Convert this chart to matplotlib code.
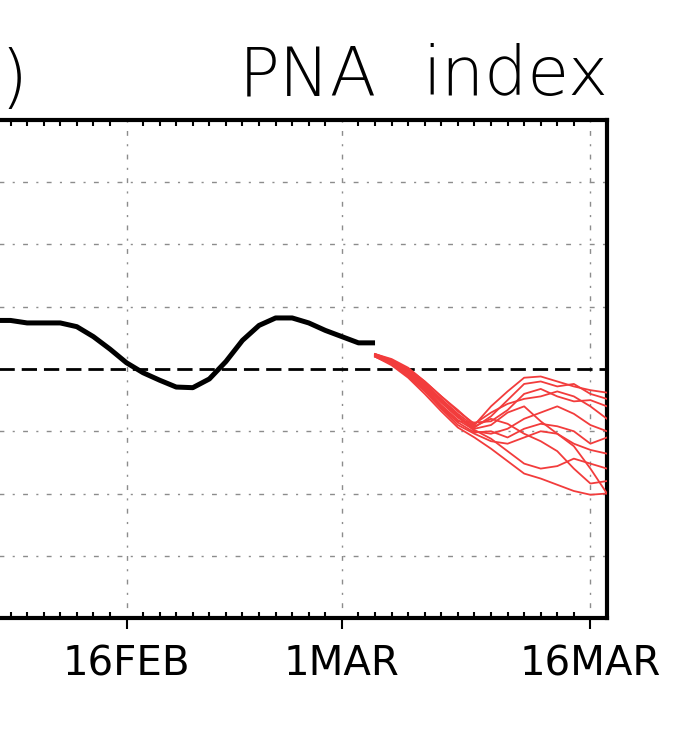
import matplotlib
matplotlib.use("Agg")
import matplotlib.pyplot as plt
import matplotlib.dates as mdates
import pandas as pd

# observed PNA index (black line)
obs_dates = pd.date_range("2025-02-08", "2025-03-03", freq="D")
obs_pna = [0.39, 0.39, 0.37, 0.37, 0.37, 0.34, 0.26, 0.16, 0.05, -0.03,
           -0.09, -0.145, -0.15, -0.08, 0.06, 0.23, 0.35, 0.41, 0.41, 0.37,
           0.31, 0.26, 0.21, 0.21]

# ensemble forecast members (red lines)
fc_dates = pd.date_range("2025-03-03", "2025-03-17", freq="D")
members = [
    [0.12, 0.08, 0.01, -0.10, -0.22, -0.33, -0.45, -0.30, -0.18, -0.07, -0.06, -0.10, -0.14, -0.17, -0.19],
    [0.11, 0.06, -0.02, -0.13, -0.26, -0.38, -0.47, -0.38, -0.25, -0.12, -0.10, -0.14, -0.12, -0.20, -0.24],
    [0.10, 0.04, -0.05, -0.17, -0.30, -0.42, -0.43, -0.42, -0.33, -0.20, -0.16, -0.22, -0.26, -0.25, -0.30],
    [0.11, 0.06, -0.02, -0.14, -0.27, -0.39, -0.48, -0.45, -0.35, -0.30, -0.42, -0.52, -0.62, -0.80, -1.00],
    [0.12, 0.07, 0.00, -0.11, -0.25, -0.37, -0.50, -0.52, -0.48, -0.40, -0.35, -0.30, -0.36, -0.45, -0.50],
    [0.10, 0.04, -0.06, -0.18, -0.32, -0.45, -0.52, -0.58, -0.60, -0.55, -0.50, -0.52, -0.60, -0.65, -0.68],
    [0.11, 0.05, -0.03, -0.15, -0.29, -0.41, -0.49, -0.56, -0.66, -0.76, -0.80, -0.78, -0.72, -0.76, -0.80],
    [0.10, 0.03, -0.07, -0.20, -0.34, -0.47, -0.55, -0.64, -0.74, -0.84, -0.88, -0.93, -0.98, -1.01, -1.00],
    [0.12, 0.07, -0.01, -0.12, -0.24, -0.36, -0.46, -0.40, -0.44, -0.52, -0.58, -0.66, -0.80, -0.92, -0.90],
    [0.11, 0.07, 0.00, -0.10, -0.22, -0.34, -0.44, -0.35, -0.28, -0.24, -0.22, -0.18, -0.22, -0.30, -0.40],
    [0.10, 0.05, -0.04, -0.16, -0.31, -0.43, -0.51, -0.50, -0.55, -0.48, -0.44, -0.46, -0.50, -0.60, -0.55],
]

tick_dates = pd.to_datetime(["2025-02-16", "2025-03-01", "2025-03-16"])
tick_labels = ["16FEB", "1MAR", "16MAR"]
grid_levels = [-1.5, -1.0, -0.5, 0.5, 1.0, 1.5]

fig = plt.figure(figsize=(6.98, 7.5), dpi=100)
# left part of the panel is cut off in the reference
ax = fig.add_axes([-0.1748, 0.176, 0.8696 + 0.1748, 0.664])

for m in members:
    ax.plot(fc_dates, m, color="#f23c3c", lw=1.3, zorder=3)
ax.plot(obs_dates, obs_pna, color="black", lw=3.6, zorder=4,
        solid_capstyle="butt")
ax.axhline(0, color="black", lw=2, dashes=(5.5, 2.5), zorder=2)

for g in grid_levels:
    ax.axhline(g, color="#8c8c8c", lw=1, dashes=(3.5, 6, 1.5, 6), zorder=1)
for t in tick_dates:
    ax.axvline(t, color="#8c8c8c", lw=1, dashes=(1.5, 6, 3.5, 6), zorder=1)

ax.set_xlim(pd.Timestamp("2025-02-01"), pd.Timestamp("2025-03-17"))
ax.set_ylim(-2, 2)

ax.set_xticks(tick_dates)
ax.set_xticklabels(tick_labels, fontsize=29, family="DejaVu Sans")
ax.xaxis.set_minor_locator(mdates.DayLocator())
ax.tick_params(axis="x", which="major", direction="out", length=8,
               width=1.5, pad=11)
ax.tick_params(axis="x", which="minor", direction="in", length=4,
               width=1.5, top=True, bottom=True)
ax.set_yticks([])

for s in ax.spines.values():
    s.set_linewidth(3)

# title words placed separately (wide word gap in the original)
fig.text(377 / 698, 1 - 95 / 750, "PNA", ha="right", va="baseline",
         fontsize=49, family="DejaVu Sans", fontweight="light")
fig.text(608 / 698, 1 - 95 / 750, "index", ha="right", va="baseline",
         fontsize=49, family="DejaVu Sans", fontweight="light")
fig.text(0 / 698, 1 - 100 / 750, ")", ha="left", va="baseline",
         fontsize=50, family="DejaVu Sans", fontweight="light")

fig.savefig("out.png", dpi=100)
